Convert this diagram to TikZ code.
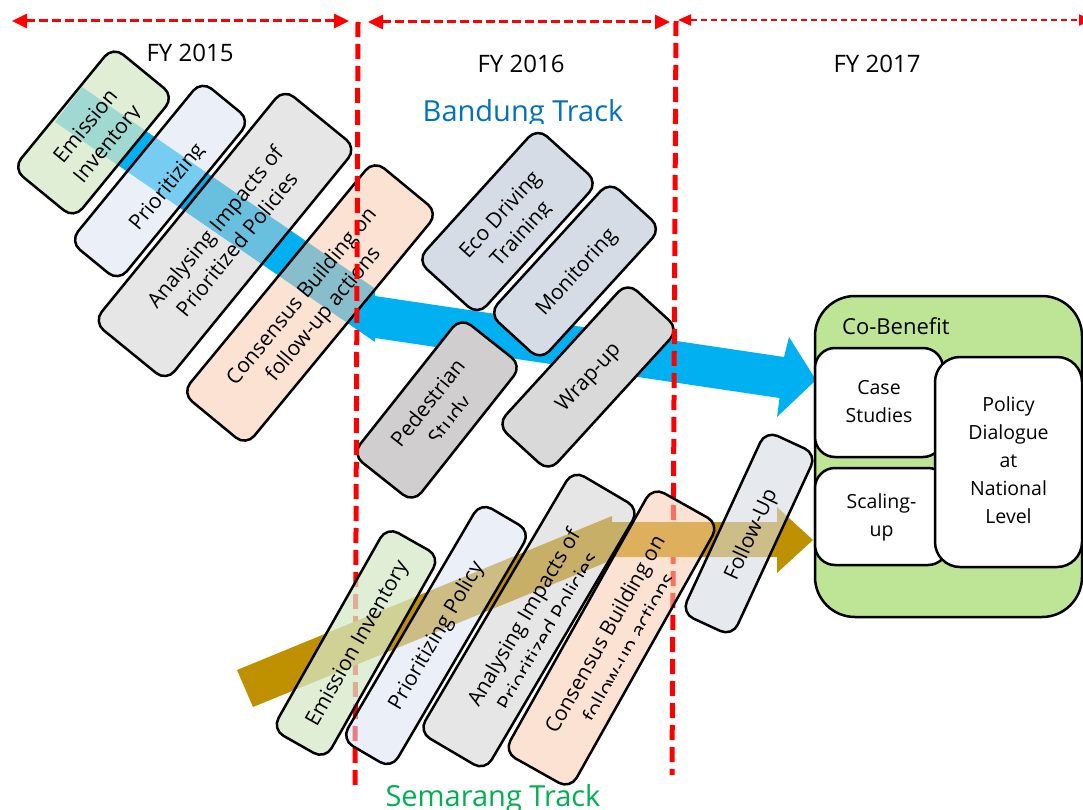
\documentclass[tikz,border=0pt]{standalone}
\usepackage{fontspec}
\setmainfont{Open Sans}
\usetikzlibrary{arrows.meta}

\definecolor{bandblue}{HTML}{00B0F0}
\definecolor{bandgold}{HTML}{BF9000}
\definecolor{trackblue}{HTML}{0070C0}
\definecolor{trackgreen}{HTML}{00B050}
\definecolor{cgreen}{HTML}{D5E8C8}
\definecolor{cblue}{HTML}{DAE3F3}
\definecolor{cgray}{HTML}{D0CECE}
\definecolor{cpeach}{HTML}{F8CBAD}
\definecolor{cslate}{HTML}{D6DCE5}
\definecolor{cwrap}{HTML}{D9D9D9}
\definecolor{cbgreen}{RGB}{190,228,150}

% rotated task box: name, centre, angle, width, height, fill options,
% text offset (towards the text's bottom), text clip line, text
\newcommand\tbox[9]{%
  \node[box,#6,minimum width=#4,minimum height=#5,rotate=#3] (#1) at #2 {};
  \begin{scope}[shift={#2},rotate=#3]
    \clip (-#4/2-10,-#5/2-30) rectangle (#4/2+10,#8);
    \node[lbl,rotate=#3] (#1-txt) at (0,#7) {#9};
  \end{scope}}

\begin{document}
\begin{tikzpicture}[x=1pt,y=-1pt,
  box/.style={rectangle,draw=black,line width=2.5pt,rounded corners=13pt,inner sep=0pt,outer sep=0pt},
  lbl/.style={font=\fontsize{21}{28}\selectfont,align=center,inner sep=0pt,text=black},
  yearline/.style={draw=red,line width=5pt,dash pattern=on 15pt off 7pt},
  yeararrow/.style={draw=red,line width=3pt,dash pattern=on 9pt off 4pt,
    {Triangle[length=15pt,width=14pt]}-{Triangle[length=15pt,width=14pt]}},
  yeararrowthin/.style={draw=red,line width=2pt,dash pattern=on 6pt off 4pt,
    {Triangle[length=13pt,width=11pt]}-{Triangle[length=13pt,width=11pt]}},
  yearlbl/.style={font=\fontsize{24}{28}\selectfont,anchor=base,inner sep=0pt},
  tracklbl/.style={font=\fontsize{29}{34}\selectfont,anchor=base,inner sep=0pt},
  cbframe/.style={rectangle,draw=black,line width=2.5pt,fill=cbgreen,rounded corners=40pt,inner sep=0pt},
  inbox/.style={rectangle,draw=black,line width=2.5pt,fill=white,rounded corners=20pt,inner sep=0pt,
    font=\fontsize{19.5}{28}\selectfont,align=center}]

\useasboundingbox (0,0) rectangle (1083,810);
\clip (0,0) rectangle (1083,810);

% Bandung track band: diagonal part and arrow towards Co-Benefit
\fill[bandblue] (82,87) -- (375,288.5) -- (375,342) -- (55,122) -- cycle;
\fill[bandblue] (375,296) -- (784,357) -- (789,337) -- (816,380) -- (777,417) -- (779.5,398) -- (375,338) -- cycle;

% Bandung track, FY 2015 (translucent boxes)
\tbox{emB}{(93.5,132.5)}{50.7}{158}{79}{fill=cgreen,fill opacity=0.75}{5}{25.5}{\strut Emission\\\strut Inventory}
\tbox{prB}{(160,181)}{50.7}{208}{63}{fill=cblue,fill opacity=0.55}{10}{16.6}{\strut Prioritizing}
\tbox{anB}{(225,235)}{50.8}{301}{94}{fill=cgray,fill opacity=0.5}{3}{100}{\strut Analysing Impacts of\\\strut Prioritized Policies}
\tbox{coB}{(310,303)}{50.5}{302}{83}{fill=cpeach,fill opacity=0.55}{4}{100}{\strut Consensus Building on\\\strut follow-up actions}

% Bandung track, FY 2016
\tbox{eco}{(507.5,221.5)}{47.8}{179}{82}{fill=cslate}{5}{25.5}{\strut Eco Driving\\\strut Training}
\tbox{mon}{(575,271)}{47.6}{179}{70}{fill=cslate}{2.5}{100}{\strut Monitoring}
\tbox{ped}{(437,410)}{51.6}{175}{78}{fill=cgray}{4}{20}{\strut Pedestrian\\\strut Study}
\tbox{wrp}{(588,377)}{47.6}{193}{70}{fill=cwrap}{1}{100}{\strut Wrap-up}

% fiscal year borders
\coordinate (v1t) at (358,22); \coordinate (v1b) at (355,785);
\coordinate (v2t) at (676,21); \coordinate (v2b) at (672,775);
\draw[yearline] (v1t) -- (v1b);
\draw[yearline] (v2t) -- (v2b);

\coordinate (a1l) at (12,21);  \coordinate (a1r) at (349,21);
\coordinate (a2l) at (368,22); \coordinate (a2r) at (670,22);
\coordinate (a3l) at (678,20); \coordinate (a3r) at (1092,20);
\draw[yeararrow] (a1l) -- (a1r);
\draw[yeararrow] (a2l) -- (a2r);
\draw[yeararrowthin] (a3l) -- (a3r);

% Semarang track band
\fill[bandgold] (237,670) -- (612,516) -- (612,560) -- (253,707) -- cycle;
\fill[bandgold] (612,522) -- (777,522) -- (777,507) -- (813,540) -- (777,573) -- (777,557) -- (612,557) -- cycle;

% Semarang track boxes
\tbox{emS}{(356,643)}{60.5}{233}{61}{fill=cgreen,fill opacity=0.75}{2}{100}{\strut Emission Inventory}
\tbox{prS}{(436,635.5)}{59.6}{275}{58}{fill=cblue,fill opacity=0.55}{1}{100}{\strut Prioritizing Policy}
\tbox{anS}{(529,620.5)}{59.5}{304}{77}{fill=cgray,fill opacity=0.5}{9.5}{24}{\strut Analysing Impacts of\\\strut Prioritized Policies}
\tbox{coS}{(611.5,638)}{60.7}{304}{76}{fill=cpeach,fill opacity=0.55}{8}{22.6}{\strut Consensus Building on\\\strut follow-up actions}
\tbox{fol}{(749,533.5)}{65.2}{201}{56}{fill=cslate,fill opacity=0.6}{3}{100}{\strut Follow-Up}

% Co-Benefit
\node[cbframe,minimum width=267,minimum height=321] (cb) at (948.5,456.5) {};
\node[font=\fontsize{22}{26}\selectfont,anchor=base west,inner sep=0pt] (cbl) at (842,334) {Co-Benefit};
\node[inbox,minimum width=128,minimum height=109] (case) at (879,402.5) {\strut Case\\\strut Studies};
\node[inbox,minimum width=133,minimum height=97] (scal) at (881.5,516.5) {\strut Scaling-\\\strut up};
\node[inbox,minimum width=147,minimum height=210,rounded corners=25pt] (pol) at (1008.5,462)
  {\strut Policy\\\strut Dialogue\\\strut at\\\strut National\\\strut Level};

% labels
\node[yearlbl] (fy15) at (190,62) {FY 2015};
\node[yearlbl] (fy16) at (521,73) {FY 2016};
\node[yearlbl] (fy17) at (877,73) {FY 2017};
\begin{scope}
  \clip (380,80) rectangle (680,123.5);
  \node[tracklbl,text=trackblue] (bandung) at (523,121.7) {Bandung Track};
\end{scope}
\node[tracklbl,text=trackgreen] (semarang) at (493,806) {Semarang Track};
\end{tikzpicture}
\end{document}
